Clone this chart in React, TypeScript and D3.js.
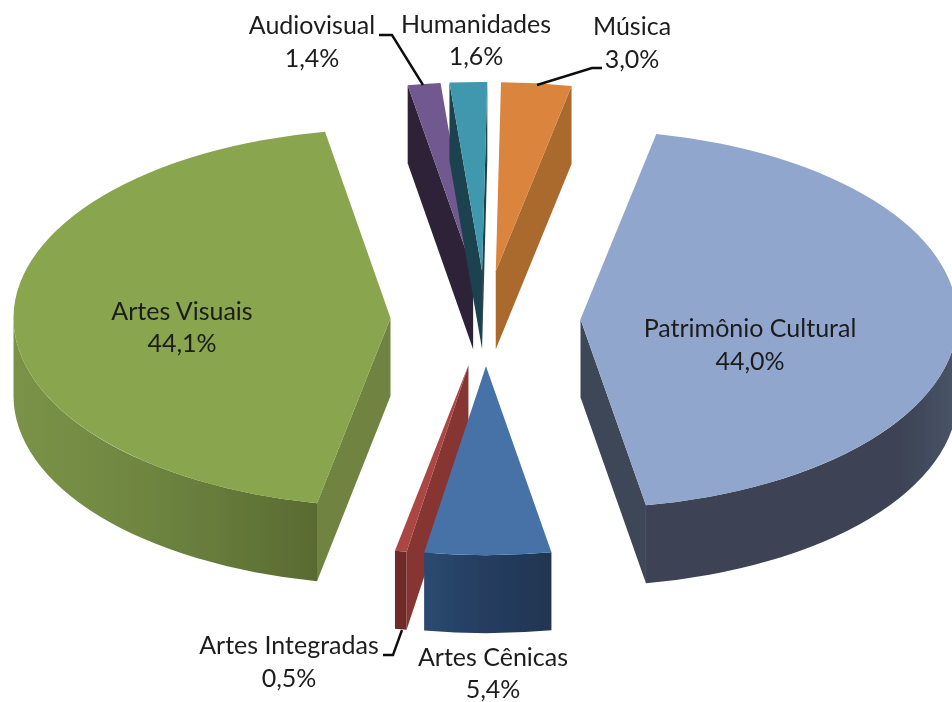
import React from "react";
import * as d3 from "d3";

const categories = ["Patrimônio Cultural", "Artes Cênicas", "Artes Integradas", "Artes Visuais", "Audiovisual", "Humanidades", "Música"];
const shares = [44.0, 5.4, 0.5, 44.1, 1.4, 1.6, 3.0];
const shareLabels = ["44,0%", "5,4%", "0,5%", "44,1%", "1,4%", "1,6%", "3,0%"];
const topColors = ["#91a6cd", "#4672a8", "#aa4644", "#89a54e", "#71588f", "#4198af", "#db843d"];
const wallColors = ["#3e4658", "#2a4a70", "#873532", "#6f8340", "#2e2339", "#1c4350", "#aa6a2e"];
const outerFrom = ["#4a5468", "#2a4a70", "#6f2c2a", "#7a9347", "#2e2339", "#1c4350", "#aa6a2e"];
const outerMid = ["#3d4557", "#263f62", "#6f2c2a", "#6e8540", "#2e2339", "#1c4350", "#aa6a2e"];
const outerTo = ["#3c4354", "#203551", "#702b2a", "#596b32", "#2e2339", "#1c4350", "#aa6a2e"];
const midStops = [0.18, 0.4, 0.5, 0.45, 0.5, 0.5, 0.5];
const drawOrder = ["Audiovisual", "Humanidades", "Música", "Artes Visuais", "Patrimônio Cultural", "Artes Integradas", "Artes Cênicas"];

const labelX = [750, 493, 289, 182, 312, 476, 632];
const labelY = [337, 666, 654, 320, 34, 33, 35];
const lineGaps = [33, 32, 33, 32, 33, 32, 33];
const leaders: [number, number][][] = [
  [[379, 35], [392, 35], [423, 85]],
  [[602, 68], [592, 68], [537, 85]],
  [[383, 655], [393, 655], [402, 630]],
];

const W = 952, H = 702;
const cx = 485.5, cy = 318.5, rx = 377, ry = 189, explode = 95, depth = 78;
const TAU = Math.PI * 2;
const startA = (11.6 / 360) * TAU;

const pie = d3.pie<number>().sort(null).startAngle(startA).endAngle(startA + TAU);
const arcs = pie(shares);
const arcGen = d3.arc<d3.PieArcDatum<number>>().innerRadius(0).outerRadius(rx);
const flat = ry / rx;
const lineGen = d3.line();

const norm = (a: number) => ((a % TAU) + TAU) % TAU;

function Slice({ i }: { i: number }) {
  const d = arcs[i];
  const mid = (d.startAngle + d.endAngle) / 2;
  const ax = cx + explode * Math.sin(mid);
  const ay = cy - (explode * flat) * Math.cos(mid);
  const P = (a: number, dz = 0): [number, number] => [ax + rx * Math.sin(a), ay - ry * Math.cos(a) + dz];
  const wall = (a: number) => lineGen([[ax, ay], P(a), P(a, depth), [ax, ay + depth]]) + "Z";
  const s = norm(d.startAngle), e = norm(d.endAngle);
  const startVisible = s > Math.PI;
  const endVisible = e < Math.PI;
  // front-facing part of the rim
  const lo = Math.max(d.startAngle, Math.PI / 2);
  const hi = Math.min(d.endAngle, (3 * Math.PI) / 2);
  let rim: string | null = null;
  let x0 = 0, x1 = 1;
  if (hi > lo) {
    const [a, b] = [P(lo), P(hi)];
    const [c, f] = [P(hi, depth), P(lo, depth)];
    rim = `M${a}A${rx} ${ry} 0 0 1 ${b}L${c}A${rx} ${ry} 0 0 0 ${f}Z`;
    x0 = Math.min(a[0], b[0]);
    x1 = Math.max(a[0], b[0]);
  }
  const gid = `rim${i}`;
  return (
    <g>
      <defs>
        <linearGradient id={gid} gradientUnits="userSpaceOnUse" x1={x0} x2={x1} y1={0} y2={0}>
          {i === 0 ? (
            <>
              <stop offset={1 - midStops[i]} stopColor={outerTo[i]} />
              <stop offset={1 - midStops[i] * 0.9} stopColor={outerMid[i]} />
              <stop offset="1" stopColor={outerFrom[i]} />
            </>
          ) : (
            <>
              <stop offset="0" stopColor={outerFrom[i]} />
              <stop offset={midStops[i]} stopColor={outerMid[i]} />
              <stop offset="1" stopColor={outerTo[i]} />
            </>
          )}
        </linearGradient>
      </defs>
      {startVisible && <path d={wall(d.startAngle)} fill={wallColors[i]} />}
      {endVisible && <path d={wall(d.endAngle)} fill={wallColors[i]} />}
      {rim && <path d={rim} fill={`url(#${gid})`} />}
      <path d={arcGen(d) as string} transform={`translate(${ax},${ay}) scale(1,${flat})`} fill={topColors[i]} />
    </g>
  );
}

export default function App() {
  return (
    <svg width={W} height={H} viewBox={`0 0 ${W} ${H}`} style={{ position: "absolute", left: 0, top: 0, background: "#fff" }}>
      <defs>
        <filter id="soft" x="-5%" y="-5%" width="110%" height="110%">
          <feGaussianBlur stdDeviation="0.5" />
        </filter>
      </defs>
      <g filter="url(#soft)">
        {drawOrder.map((n) => (
          <Slice key={n} i={categories.indexOf(n)} />
        ))}
        {leaders.map((l, i) => (
          <path key={i} d={lineGen(l) as string} fill="none" stroke="#111" strokeWidth={2.4} />
        ))}
        {categories.map((c, i) => (
          <text key={c} x={labelX[i]} y={labelY[i]} textAnchor="middle" fontFamily="Lato, sans-serif" fontSize={25} fill="#1c1c1c">
            <tspan x={labelX[i]}>{c}</tspan>
            <tspan x={labelX[i]} dy={lineGaps[i]}>{shareLabels[i]}</tspan>
          </text>
        ))}
      </g>
    </svg>
  );
}
